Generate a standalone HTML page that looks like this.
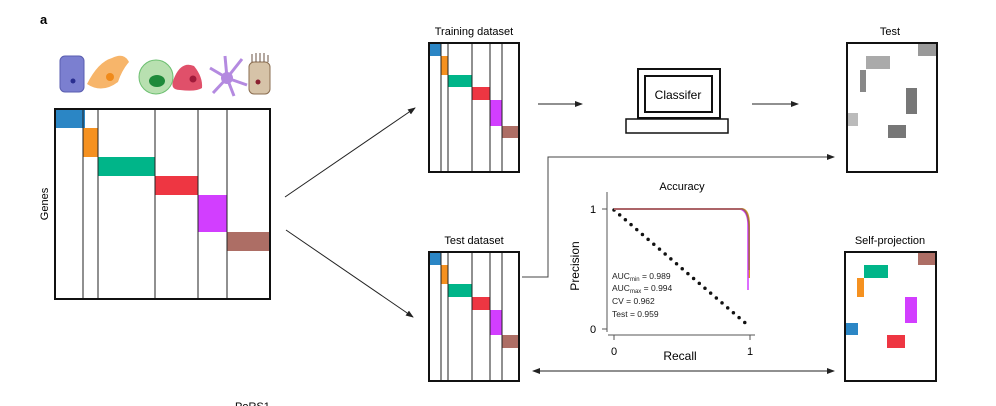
<!DOCTYPE html>
<html><head><meta charset="utf-8"><style>body{margin:0;background:#fff}svg{display:block;font-family:"Liberation Sans",sans-serif}</style></head><body>
<svg width="996" height="406" viewBox="0 0 996 406" xmlns="http://www.w3.org/2000/svg">
<defs><marker id="ah" markerWidth="8" markerHeight="8" refX="7" refY="4" orient="auto" markerUnits="userSpaceOnUse"><path d="M0,1 L8,4 L0,7 Z" fill="#222"/></marker>
<marker id="ahs" markerWidth="8" markerHeight="8" refX="1" refY="4" orient="auto" markerUnits="userSpaceOnUse"><path d="M8,1 L0,4 L8,7 Z" fill="#222"/></marker></defs>
<text x="40" y="24" font-size="13" font-weight="bold">a</text>
<!-- cells -->
<rect x="60" y="56" width="24" height="36" rx="5" fill="#7b7fd0" stroke="#5a5eb0"/><circle cx="73" cy="81" r="2.5" fill="#2a2e90"/>
<path d="M87,84 Q98,62 112,58 Q124,52 129,62 Q122,70 118,82 Q102,94 87,84Z" fill="#f7b56a"/><circle cx="110" cy="77" r="4" fill="#f08a1a"/>
<circle cx="156" cy="77" r="17" fill="#b8e0b0" stroke="#6cbf70"/><ellipse cx="157" cy="81" rx="8" ry="6" fill="#1e8a3a"/>
<path d="M180,90 Q168,90 175,76 Q182,61 194,66 Q203,77 202,88 Q196,92 180,90Z" fill="#e0506a"/><circle cx="193" cy="79" r="3.5" fill="#a01a3a"/>
<g stroke="#b48ae0" stroke-width="3"><line x1="227" y1="78" x2="210" y2="68"/><line x1="227" y1="78" x2="242" y2="59"/><line x1="227" y1="78" x2="213" y2="93"/><line x1="227" y1="78" x2="247" y2="85"/><line x1="227" y1="78" x2="225" y2="56"/><line x1="227" y1="78" x2="234" y2="96"/></g><circle cx="227" cy="78" r="6" fill="#b48ae0"/>
<rect x="249" y="62" width="21" height="32" rx="5" fill="#d6c3a8" stroke="#8a6d50"/><path d="M252,62 L252,54 M256,62 L256,53 M260,62 L260,53 M264,62 L264,53 M268,62 L268,55" stroke="#6a5040"/><circle cx="258" cy="82" r="2.5" fill="#8a2030"/>
<!-- big matrix -->
<rect x="55" y="109" width="30" height="19" fill="#2b86c5"/><rect x="83" y="128" width="15" height="29" fill="#f59120"/><rect x="98" y="157" width="57" height="19" fill="#00b589"/><rect x="155" y="176" width="43" height="19" fill="#ee3642"/><rect x="198" y="195" width="29" height="37" fill="#d23eff"/><rect x="227" y="232" width="43" height="19" fill="#ad6e65"/>
<g stroke="#222" stroke-width="1"><line x1="83" y1="109" x2="83" y2="299"/><line x1="98" y1="109" x2="98" y2="299"/><line x1="155" y1="109" x2="155" y2="299"/><line x1="198" y1="109" x2="198" y2="299"/><line x1="227" y1="109" x2="227" y2="299"/></g>
<rect x="55" y="109" width="215" height="190" fill="none" stroke="#111" stroke-width="2"/>
<text x="48" y="204" font-size="11" transform="rotate(-90 48 204)" text-anchor="middle">Genes</text>
<line x1="285" y1="197" x2="415" y2="108" stroke="#222" marker-end="url(#ah)"/>
<line x1="286" y1="230" x2="413" y2="317" stroke="#222" marker-end="url(#ah)"/>
<!-- training -->
<text x="474" y="35" font-size="11" text-anchor="middle">Training dataset</text>
<rect x="429" y="43" width="12" height="13" fill="#2b86c5"/><rect x="441" y="56" width="7" height="19" fill="#f59120"/><rect x="448" y="75" width="24" height="12" fill="#00b589"/><rect x="472" y="87" width="18" height="13" fill="#ee3642"/><rect x="490" y="100" width="12" height="26" fill="#d23eff"/><rect x="502" y="126" width="17" height="12" fill="#ad6e65"/>
<g stroke="#222"><line x1="441" y1="43" x2="441" y2="172"/><line x1="448" y1="43" x2="448" y2="172"/><line x1="472" y1="43" x2="472" y2="172"/><line x1="490" y1="43" x2="490" y2="172"/><line x1="502" y1="43" x2="502" y2="172"/></g>
<rect x="429" y="43" width="90" height="129" fill="none" stroke="#111" stroke-width="2"/>
<!-- test dataset -->
<text x="474" y="244" font-size="11" text-anchor="middle">Test dataset</text>
<rect x="429" y="252" width="12" height="13" fill="#2b86c5"/><rect x="441" y="265" width="7" height="19" fill="#f59120"/><rect x="448" y="284" width="24" height="13" fill="#00b589"/><rect x="472" y="297" width="18" height="13" fill="#ee3642"/><rect x="490" y="310" width="12" height="25" fill="#d23eff"/><rect x="502" y="335" width="17" height="13" fill="#ad6e65"/>
<g stroke="#222"><line x1="441" y1="252" x2="441" y2="381"/><line x1="448" y1="252" x2="448" y2="381"/><line x1="472" y1="252" x2="472" y2="381"/><line x1="490" y1="252" x2="490" y2="381"/><line x1="502" y1="252" x2="502" y2="381"/></g>
<rect x="429" y="252" width="90" height="129" fill="none" stroke="#111" stroke-width="2"/>
<!-- arrows -->
<line x1="538" y1="104" x2="582" y2="104" stroke="#222" marker-end="url(#ah)"/>
<line x1="752" y1="104" x2="798" y2="104" stroke="#222" marker-end="url(#ah)"/>
<polyline points="522,277 548,277 548,157 834,157" fill="none" stroke="#444" marker-end="url(#ah)"/>
<line x1="533" y1="371" x2="834" y2="371" stroke="#222" marker-end="url(#ah)" marker-start="url(#ahs)"/>
<!-- computer -->
<rect x="638" y="69" width="82" height="49" fill="none" stroke="#111" stroke-width="2"/>
<rect x="645" y="76" width="67" height="36" fill="none" stroke="#111" stroke-width="2"/>
<text x="678" y="99" font-size="12" text-anchor="middle">Classifer</text>
<rect x="626" y="119" width="102" height="14" fill="none" stroke="#111" stroke-width="1.5"/>
<!-- test -->
<text x="890" y="35" font-size="11" text-anchor="middle">Test</text>
<rect x="918" y="44" width="19" height="12" fill="#999"/><rect x="866" y="56" width="24" height="13" fill="#aaa"/><rect x="860" y="70" width="6" height="22" fill="#888"/><rect x="906" y="88" width="11" height="26" fill="#777"/><rect x="847" y="113" width="11" height="13" fill="#bbb"/><rect x="888" y="125" width="18" height="13" fill="#777"/>
<rect x="847" y="43" width="90" height="129" fill="none" stroke="#111" stroke-width="2"/>
<!-- self-projection -->
<text x="890" y="244" font-size="11" text-anchor="middle">Self-projection</text>
<rect x="918" y="252" width="18" height="13" fill="#ad6e65"/><rect x="864" y="265" width="24" height="13" fill="#00b589"/><rect x="857" y="278" width="7" height="19" fill="#f59120"/><rect x="905" y="297" width="12" height="26" fill="#d23eff"/><rect x="845" y="323" width="13" height="12" fill="#2b86c5"/><rect x="887" y="335" width="18" height="13" fill="#ee3642"/>
<rect x="845" y="252" width="91" height="129" fill="none" stroke="#111" stroke-width="2"/>
<!-- PR plot -->
<text x="682" y="190" font-size="11" text-anchor="middle">Accuracy</text>
<line x1="607" y1="192" x2="607" y2="332" stroke="#555"/><line x1="602" y1="209" x2="607" y2="209" stroke="#555"/><line x1="602" y1="329" x2="607" y2="329" stroke="#555"/>
<line x1="608" y1="335" x2="755" y2="335" stroke="#555"/><line x1="614" y1="335" x2="614" y2="340" stroke="#555"/><line x1="750" y1="335" x2="750" y2="340" stroke="#555"/>
<text x="593" y="213" font-size="11" text-anchor="middle">1</text><text x="593" y="333" font-size="11" text-anchor="middle">0</text>
<text x="614" y="355" font-size="11" text-anchor="middle">0</text><text x="750" y="355" font-size="11" text-anchor="middle">1</text>
<text x="680" y="360" font-size="12" text-anchor="middle">Recall</text>
<text x="579" y="266" font-size="12" text-anchor="middle" transform="rotate(-90 579 266)">Precision</text>
<line x1="614" y1="210" x2="750" y2="327" stroke="#111" stroke-width="3.5" stroke-dasharray="0 7.5" stroke-linecap="round"/>
<path d="M614,209 L742,209 Q749,210 749,225 L749,278" fill="none" stroke="#d4a020" stroke-width="2"/>
<path d="M614,209 L740,209 Q748,211 748,225 L748,290" fill="none" stroke="#d23eff" stroke-width="1.5"/>
<path d="M614,209 L742,209 Q749,211 749,230 L749,270" fill="none" stroke="#a0605a" stroke-width="1.5"/>
<g font-size="8.5" fill="#222"><text x="612" y="279">AUC<tspan font-size="6" dy="2">min</tspan><tspan dy="-2"> = 0.989</tspan></text>
<text x="612" y="291">AUC<tspan font-size="6" dy="2">max</tspan><tspan dy="-2"> = 0.994</tspan></text>
<text x="612" y="304">CV = 0.962</text><text x="612" y="317">Test = 0.959</text></g>
<text x="235" y="410" font-size="11">PoRS1</text>
</svg>
</body></html>
